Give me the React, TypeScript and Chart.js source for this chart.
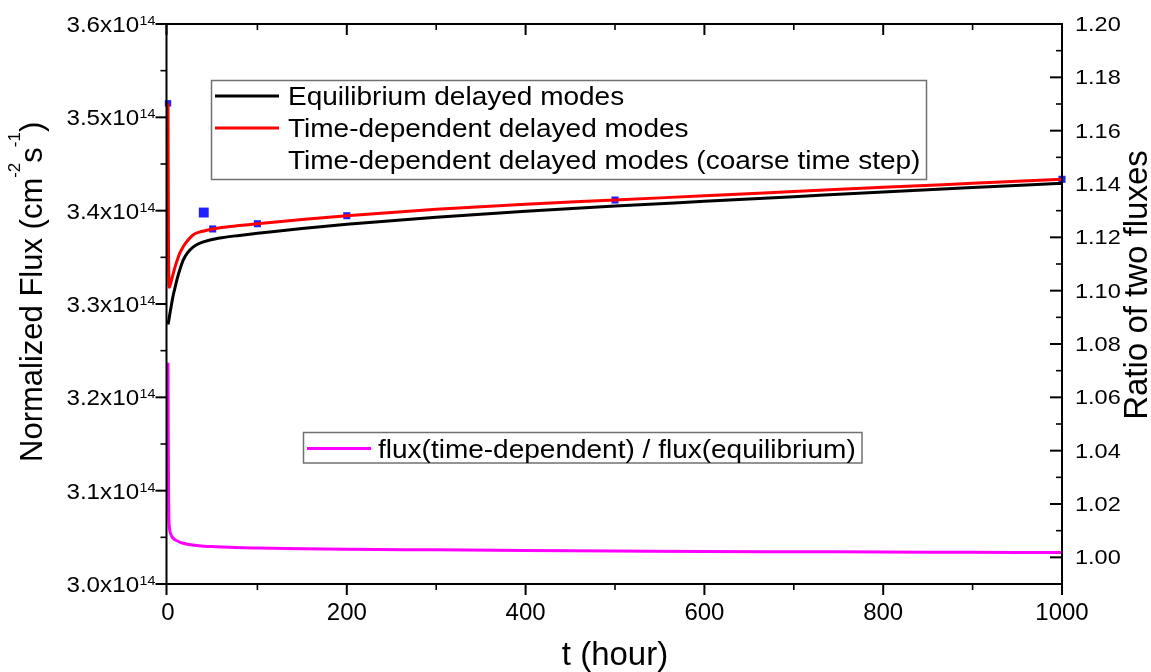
import React, { useEffect, useRef } from 'react';
import { Chart, registerables } from 'chart.js';

Chart.register(...registerables);

const FONT = '"Liberation Sans", Arial, Helvetica, sans-serif';

// ---- Data ----
const tEq = [0, 1, 2, 4, 6, 8, 10, 13, 17, 22, 28, 35, 47, 60, 80, 100, 150, 200, 300, 400, 500, 600, 700, 800, 900, 1000];
const fluxEq = [3.278e14, 3.283e14, 3.289e14, 3.3e14, 3.31e14, 3.318e14, 3.326e14, 3.336e14, 3.347e14, 3.355e14, 3.361e14, 3.365e14, 3.3686e14, 3.371e14, 3.3735e14, 3.3757e14, 3.381e14, 3.3855e14, 3.393e14, 3.3995e14, 3.405e14, 3.41e14, 3.415e14, 3.42e14, 3.4248e14, 3.4293e14];

const tTd = [0, 0.5, 1, 1.5, 2, 4, 6, 8, 10, 13, 17, 22, 28, 35, 50, 60, 80, 100, 150, 200, 300, 400, 500, 600, 700, 800, 900, 1000];
const fluxTd = [3.515e14, 3.37e14, 3.325e14, 3.318e14, 3.319e14, 3.326e14, 3.333e14, 3.34e14, 3.346e14, 3.354e14, 3.3614e14, 3.368e14, 3.374e14, 3.377e14, 3.3804e14, 3.382e14, 3.384e14, 3.386e14, 3.3905e14, 3.3946e14, 3.4015e14, 3.407e14, 3.4114e14, 3.416e14, 3.4205e14, 3.425e14, 3.4293e14, 3.4336e14];

const tCoarse = [0, 40, 50, 100, 200, 500, 1000];
const fluxCoarse = [3.515e14, 3.398e14, 3.3804e14, 3.386e14, 3.3946e14, 3.4114e14, 3.4336e14];
const coarseMarkerRadius = [4.5, 7, 5, 5, 5, 5, 5];

const tRatio = [0, 0.3, 0.6, 1, 1.5, 2, 3, 4, 6, 8, 10, 13, 17, 22, 30, 40, 54, 75, 100, 150, 200, 300, 400, 500, 600, 700, 800, 900, 1000];
const ratio = [1.073, 1.045, 1.025, 1.0145, 1.0115, 1.01, 1.0088, 1.008, 1.0071, 1.0066, 1.0062, 1.0057, 1.0053, 1.0049, 1.0045, 1.0042, 1.004, 1.0037, 1.0035, 1.0032, 1.003, 1.0028, 1.0026, 1.0024, 1.0022, 1.0021, 1.002, 1.0019, 1.0018];

// ---- Axes / ticks ----
const xMajorTicks = [0, 200, 400, 600, 800, 1000];
const xMinorTicks = [100, 300, 500, 700, 900];
const yMajorTicks = [3.0e14, 3.1e14, 3.2e14, 3.3e14, 3.4e14, 3.5e14, 3.6e14];
const yTickLabels = ['3.0x10', '3.1x10', '3.2x10', '3.3x10', '3.4x10', '3.5x10', '3.6x10'];
const yTickExponent = '14';
const yMinorTicks = [3.05e14, 3.15e14, 3.25e14, 3.35e14, 3.45e14, 3.55e14];
const y2MajorTicks = [1.0, 1.02, 1.04, 1.06, 1.08, 1.1, 1.12, 1.14, 1.16, 1.18, 1.2];
const y2TickLabels = ['1.00', '1.02', '1.04', '1.06', '1.08', '1.10', '1.12', '1.14', '1.16', '1.18', '1.20'];
const y2MinorTicks = [0.99, 1.01, 1.03, 1.05, 1.07, 1.09, 1.11, 1.13, 1.15, 1.17, 1.19];

const xTitle = 't (hour)';
const yTitleMain = 'Normalized Flux (cm';
const y2Title = 'Ratio of two fluxes';
const legendTop = ['Equilibrium delayed modes', 'Time-dependent delayed modes', 'Time-dependent delayed modes (coarse time step)'];
const legendBottom = 'flux(time-dependent) / flux(equilibrium)';

const BLACK = '#000000';
const RED = '#ff0000';
const BLUE = '#1f1fff';
const MAGENTA = '#ff00ff';

function toXY(xs: number[], ys: number[]) {
  return xs.map((x, i) => ({ x, y: ys[i] }));
}

function drawText(ctx: CanvasRenderingContext2D, s: string, x: number, y: number, size: number, align: 'left' | 'right' | 'center', sx = 1) {
  ctx.save();
  ctx.font = `${size}px ${FONT}`;
  const w = ctx.measureText(s).width * sx;
  const x0 = align === 'right' ? x - w : align === 'center' ? x - w / 2 : x;
  ctx.translate(x0, y);
  ctx.scale(sx, 1);
  ctx.textAlign = 'left';
  ctx.textBaseline = 'alphabetic';
  ctx.fillStyle = '#000';
  ctx.fillText(s, 0, 0);
  ctx.restore();
  return w;
}

function measure(ctx: CanvasRenderingContext2D, s: string, size: number, sx = 1) {
  ctx.save();
  ctx.font = `${size}px ${FONT}`;
  const w = ctx.measureText(s).width * sx;
  ctx.restore();
  return w;
}

const framePlugin = {
  id: 'originFrame',
  afterDraw(chart: any) {
    const ctx: CanvasRenderingContext2D = chart.ctx;
    const { left, right, top, bottom } = chart.chartArea;
    const xs = chart.scales.x;
    const ys = chart.scales.y;
    const y2 = chart.scales.y2;
    const axL = left - 1.5; // Origin draws the axis line just outside the data origin

    ctx.save();
    ctx.strokeStyle = '#000';
    ctx.lineCap = 'square';

    // frame
    ctx.lineWidth = 2;
    ctx.beginPath();
    ctx.moveTo(axL, top);
    ctx.lineTo(right, top);
    ctx.lineTo(right, bottom);
    ctx.lineTo(axL, bottom);
    ctx.closePath();
    ctx.stroke();

    ctx.lineCap = 'butt';
    const seg = (x1: number, y1: number, x2: number, y2_: number, w: number) => {
      ctx.lineWidth = w;
      ctx.beginPath();
      ctx.moveTo(x1, y1);
      ctx.lineTo(x2, y2_);
      ctx.stroke();
    };

    // bottom (outward) & top (inward) ticks
    xMajorTicks.forEach((v) => {
      const px = v === 0 ? axL : xs.getPixelForValue(v);
      seg(px, bottom, px, bottom + 11, 2);
      seg(px, top, px, top + 11, 2);
    });
    xMinorTicks.forEach((v) => {
      const px = xs.getPixelForValue(v);
      seg(px, bottom, px, bottom + 6, 1.6);
      seg(px, top, px, top + 6, 1.6);
    });
    // left ticks (outward)
    yMajorTicks.forEach((v) => {
      const py = ys.getPixelForValue(v);
      seg(axL - 11, py, axL, py, 2);
    });
    yMinorTicks.forEach((v) => {
      const py = ys.getPixelForValue(v);
      seg(axL - 6, py, axL, py, 1.6);
    });
    // right ticks (inward)
    y2MajorTicks.forEach((v) => {
      const py = y2.getPixelForValue(v);
      seg(right - 12, py, right, py, 2);
    });
    y2MinorTicks.forEach((v) => {
      const py = y2.getPixelForValue(v);
      seg(right - 6, py, right, py, 1.6);
    });
    ctx.restore();

    // tick labels
    xMajorTicks.forEach((v) => {
      drawText(ctx, String(v), xs.getPixelForValue(v), 620, 24, 'center', 1);
    });
    yMajorTicks.forEach((v, i) => {
      const py = ys.getPixelForValue(v);
      const supW = measure(ctx, yTickExponent, 13, 1.1);
      drawText(ctx, yTickExponent, axL - 11 - supW, py + 1, 13, 'left', 1.1);
      drawText(ctx, yTickLabels[i], axL - 11 - supW - 0.5, py + 8, 22, 'right', 1.1);
    });
    y2MajorTicks.forEach((v, i) => {
      const py = y2.getPixelForValue(v);
      drawText(ctx, y2TickLabels[i], right + 13, py + 7, 21, 'left', 1.12);
    });

    // axis titles
    drawText(ctx, xTitle, (left + right) / 2, 665, 33, 'center', 1);

    ctx.save();
    ctx.translate(42, 462);
    ctx.rotate(-Math.PI / 2);
    ctx.fillStyle = '#000';
    ctx.textBaseline = 'alphabetic';
    ctx.textAlign = 'left';
    let cx = 0;
    const run = (s: string, size: number, dy: number) => {
      ctx.font = `${size}px ${FONT}`;
      ctx.fillText(s, cx, dy);
      cx += ctx.measureText(s).width;
    };
    run(yTitleMain, 31, 0);
    run('-2', 17, -22);
    run('s', 31, 0);
    run('-1', 17, -22);
    run(')', 31, 0);
    ctx.restore();

    ctx.save();
    ctx.translate(1147, 285);
    ctx.rotate(-Math.PI / 2);
    ctx.font = `33px ${FONT}`;
    ctx.fillStyle = '#000';
    ctx.textAlign = 'center';
    ctx.textBaseline = 'alphabetic';
    ctx.fillText(y2Title, 0, 0);
    ctx.restore();

    // legends
    ctx.save();
    ctx.fillStyle = '#fff';
    ctx.strokeStyle = '#707070';
    ctx.lineWidth = 1.5;
    ctx.fillRect(211.5, 80.5, 715, 99);
    ctx.strokeRect(211.5, 80.5, 715, 99);
    ctx.fillRect(303.5, 432.5, 558.5, 30.5);
    ctx.strokeRect(303.5, 432.5, 558.5, 30.5);
    ctx.lineWidth = 3;
    ctx.strokeStyle = BLACK;
    ctx.beginPath(); ctx.moveTo(215, 96); ctx.lineTo(279, 96); ctx.stroke();
    ctx.strokeStyle = RED;
    ctx.beginPath(); ctx.moveTo(215, 128); ctx.lineTo(279, 128); ctx.stroke();
    ctx.strokeStyle = MAGENTA;
    ctx.beginPath(); ctx.moveTo(307, 448.5); ctx.lineTo(371, 448.5); ctx.stroke();
    ctx.restore();
    drawText(ctx, legendTop[0], 288, 105, 25, 'left', 1.12);
    drawText(ctx, legendTop[1], 288, 137, 25, 'left', 1.12);
    drawText(ctx, legendTop[2], 288, 169, 25, 'left', 1.12);
    drawText(ctx, legendBottom, 378, 457.5, 25, 'left', 1.12);
  },
};

export default function App() {
  const canvasRef = useRef<HTMLCanvasElement | null>(null);

  useEffect(() => {
    if (!canvasRef.current) return;
    const lineCommon = {
      pointRadius: 0,
      borderWidth: 3,
      tension: 0.4,
      cubicInterpolationMode: 'monotone' as const,
      fill: false,
      clip: false,
    };
    const chart = new Chart(canvasRef.current, {
      type: 'line',
      data: {
        datasets: [
          {
            label: legendBottom,
            data: toXY(tRatio, ratio),
            yAxisID: 'y2',
            borderColor: MAGENTA,
            ...lineCommon,
          },
          {
            label: legendTop[0],
            data: toXY(tEq, fluxEq),
            yAxisID: 'y',
            borderColor: BLACK,
            ...lineCommon,
          },
          {
            label: legendTop[1],
            data: toXY(tTd, fluxTd),
            yAxisID: 'y',
            borderColor: RED,
            ...lineCommon,
          },
          {
            label: legendTop[2],
            data: toXY(tCoarse, fluxCoarse),
            yAxisID: 'y',
            showLine: false,
            pointStyle: 'rect',
            pointRadius: coarseMarkerRadius,
            pointBackgroundColor: BLUE,
            pointBorderWidth: 0,
            borderColor: BLUE,
            backgroundColor: BLUE,
            clip: false,
          } as any,
        ],
      },
      options: {
        animation: false,
        responsive: false,
        events: [],
        layout: { padding: { top: 24, left: 0, right: 0, bottom: 0 } },
        plugins: {
          legend: { display: false },
          tooltip: { enabled: false },
        },
        scales: {
          x: {
            type: 'linear',
            position: 'bottom',
            min: 0,
            max: 1000,
            grid: { display: false },
            border: { display: false },
            ticks: { display: false },
            afterFit: (s: any) => { s.height = 88; },
          },
          y: {
            type: 'linear',
            position: 'left',
            min: 3.0e14,
            max: 3.6e14,
            grid: { display: false },
            border: { display: false },
            ticks: { display: false },
            afterFit: (s: any) => { s.width = 168; },
          },
          y2: {
            type: 'linear',
            position: 'right',
            min: 0.99,
            max: 1.2,
            grid: { display: false },
            border: { display: false },
            ticks: { display: false },
            afterFit: (s: any) => { s.width = 89; },
          },
        },
      } as any,
      plugins: [framePlugin],
    });
    return () => chart.destroy();
  }, []);

  return (
    <div style={{ position: 'absolute', left: 0, top: 0, width: 1151, height: 672, background: '#fff' }}>
      <canvas ref={canvasRef} width={1151} height={672} style={{ width: 1151, height: 672, display: 'block' }} />
    </div>
  );
}
